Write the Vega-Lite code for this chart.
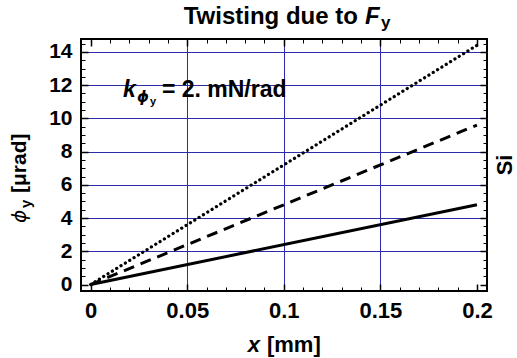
{
  "$schema": "https://vega.github.io/schema/vega-lite/v6.json",
  "width": 406,
  "height": 252,
  "autosize": "none",
  "padding": {"left": 81, "top": 39, "right": 30, "bottom": 67},
  "background": "white",
  "config": {
    "view": {"stroke": "black", "strokeWidth": 2},
    "axis": {"domain": false, "labelFont": "Liberation Sans", "labelFontWeight": "bold", "labelFontSize": 21, "labelColor": "black", "tickColor": "black", "grid": false},
    "text": {"font": "Liberation Sans", "color": "black", "fontWeight": "bold"}
  },
  "datasets": {
    "lines": [
      {"series": "solid", "x": 0, "y": 0},
      {"series": "solid", "x": 0.2, "y": 4.8},
      {"series": "dashed", "x": 0, "y": 0},
      {"series": "dashed", "x": 0.2, "y": 9.6},
      {"series": "dotted", "x": 0, "y": 0},
      {"series": "dotted", "x": 0.2, "y": 14.4}
    ]
  },
  "resolve": {"axis": {"x": "independent", "y": "independent"}},
  "layer": [
    {
      "data": {"name": "lines"},
      "mark": {"type": "point", "opacity": 0},
      "encoding": {
        "x": {"field": "x", "type": "quantitative", "scale": {"domain": [-0.005, 0.2052], "nice": false, "zero": false},
              "axis": {"title": null, "orient": "bottom", "values": [0.05, 0.1, 0.15], "grid": true, "gridColor": "#2c2ca8", "gridWidth": 1, "gridOpacity": 1, "labels": false, "ticks": false}},
        "y": {"field": "y", "type": "quantitative", "scale": {"domain": [-0.39, 14.78], "nice": false, "zero": false},
              "axis": {"title": null, "orient": "left", "values": [2, 4, 6, 8, 10, 12, 14], "grid": true, "gridColor": "#2c2ca8", "gridWidth": 1, "gridOpacity": 1, "labels": false, "ticks": false}}
      }
    },
    {
      "data": {"name": "lines"},
      "mark": {"type": "point", "opacity": 0},
      "encoding": {
        "x": {"field": "x", "type": "quantitative", "scale": {"domain": [-0.005, 0.2052], "nice": false, "zero": false},
              "axis": {"title": null, "orient": "bottom", "values": [0, 0.05, 0.1, 0.15, 0.2], "format": "~g", "ticks": false, "labelPadding": 9, "labelFontSize": 22}},
        "y": {"field": "y", "type": "quantitative", "scale": {"domain": [-0.39, 14.78], "nice": false, "zero": false},
              "axis": {"title": null, "orient": "left", "values": [0, 2, 4, 6, 8, 10, 12, 14], "format": "d", "ticks": false, "labelPadding": 9}}
      }
    },
    {
      "data": {"name": "lines"},
      "mark": {"type": "point", "opacity": 0},
      "encoding": {
        "x": {"field": "x", "type": "quantitative", "scale": {"domain": [-0.005, 0.2052], "nice": false, "zero": false},
              "axis": {"title": null, "orient": "bottom", "values": [0, 0.05, 0.1, 0.15, 0.2], "labels": false, "ticks": true, "tickSize": -7, "tickWidth": 1.5}},
        "y": {"field": "y", "type": "quantitative", "scale": {"domain": [-0.39, 14.78], "nice": false, "zero": false},
              "axis": {"title": null, "orient": "left", "values": [0, 2, 4, 6, 8, 10, 12, 14], "labels": false, "ticks": true, "tickSize": -7, "tickWidth": 1.5}}
      }
    },
    {
      "data": {"name": "lines"},
      "mark": {"type": "point", "opacity": 0},
      "encoding": {
        "x": {"field": "x", "type": "quantitative", "scale": {"domain": [-0.005, 0.2052], "nice": false, "zero": false},
              "axis": {"title": null, "orient": "bottom", "values": [0.01, 0.02, 0.03, 0.04, 0.06, 0.07, 0.08, 0.09, 0.11, 0.12, 0.13, 0.14, 0.16, 0.17, 0.18, 0.19], "labels": false, "ticks": true, "tickSize": -4, "tickWidth": 1}},
        "y": {"field": "y", "type": "quantitative", "scale": {"domain": [-0.39, 14.78], "nice": false, "zero": false},
              "axis": {"title": null, "orient": "left", "values": [0.5, 1, 1.5, 2.5, 3, 3.5, 4.5, 5, 5.5, 6.5, 7, 7.5, 8.5, 9, 9.5, 10.5, 11, 11.5, 12.5, 13, 13.5, 14.5], "labels": false, "ticks": true, "tickSize": -4, "tickWidth": 1}}
      }
    },
    {
      "data": {"name": "lines"},
      "mark": {"type": "point", "opacity": 0},
      "encoding": {
        "x": {"field": "x", "type": "quantitative", "scale": {"domain": [-0.005, 0.2052], "nice": false, "zero": false},
              "axis": {"title": null, "orient": "top", "values": [0, 0.05, 0.1, 0.15, 0.2], "labels": false, "ticks": true, "tickSize": -7, "tickWidth": 1.5}},
        "y": {"field": "y", "type": "quantitative", "scale": {"domain": [-0.39, 14.78], "nice": false, "zero": false},
              "axis": {"title": null, "orient": "right", "values": [0, 2, 4, 6, 8, 10, 12, 14], "labels": false, "ticks": true, "tickSize": -7, "tickWidth": 1.5}}
      }
    },
    {
      "data": {"name": "lines"},
      "mark": {"type": "point", "opacity": 0},
      "encoding": {
        "x": {"field": "x", "type": "quantitative", "scale": {"domain": [-0.005, 0.2052], "nice": false, "zero": false},
              "axis": {"title": null, "orient": "top", "values": [0.01, 0.02, 0.03, 0.04, 0.06, 0.07, 0.08, 0.09, 0.11, 0.12, 0.13, 0.14, 0.16, 0.17, 0.18, 0.19], "labels": false, "ticks": true, "tickSize": -4, "tickWidth": 1}},
        "y": {"field": "y", "type": "quantitative", "scale": {"domain": [-0.39, 14.78], "nice": false, "zero": false},
              "axis": {"title": null, "orient": "right", "values": [0.5, 1, 1.5, 2.5, 3, 3.5, 4.5, 5, 5.5, 6.5, 7, 7.5, 8.5, 9, 9.5, 10.5, 11, 11.5, 12.5, 13, 13.5, 14.5], "labels": false, "ticks": true, "tickSize": -4, "tickWidth": 1}}
      }
    },
    {
      "data": {"name": "lines"},
      "transform": [{"filter": "datum.series === 'solid'"}],
      "mark": {"type": "line", "color": "black", "strokeWidth": 3},
      "encoding": {
        "x": {"field": "x", "type": "quantitative", "scale": {"domain": [-0.005, 0.2052], "nice": false, "zero": false}, "axis": null},
        "y": {"field": "y", "type": "quantitative", "scale": {"domain": [-0.39, 14.78], "nice": false, "zero": false}, "axis": null}
      }
    },
    {
      "data": {"name": "lines"},
      "transform": [{"filter": "datum.series === 'dashed'"}],
      "mark": {"type": "line", "color": "black", "strokeWidth": 3, "strokeDash": [11, 7]},
      "encoding": {
        "x": {"field": "x", "type": "quantitative", "scale": {"domain": [-0.005, 0.2052], "nice": false, "zero": false}, "axis": null},
        "y": {"field": "y", "type": "quantitative", "scale": {"domain": [-0.39, 14.78], "nice": false, "zero": false}, "axis": null}
      }
    },
    {
      "data": {"name": "lines"},
      "transform": [{"filter": "datum.series === 'dotted'"}],
      "mark": {"type": "line", "color": "black", "strokeWidth": 3.2, "strokeDash": [0.1, 5], "strokeCap": "round"},
      "encoding": {
        "x": {"field": "x", "type": "quantitative", "scale": {"domain": [-0.005, 0.2052], "nice": false, "zero": false}, "axis": null},
        "y": {"field": "y", "type": "quantitative", "scale": {"domain": [-0.39, 14.78], "nice": false, "zero": false}, "axis": null}
      }
    },
    {
      "data": {"values": [{"label": "Twisting due to", "x": 0.142, "y": 15.686}]},
      "mark": {"type": "text", "align": "right", "baseline": "alphabetic", "fontSize": 24, "dx": -7, "clip": false},
      "encoding": {
        "text": {"field": "label"},
        "x": {"field": "x", "type": "quantitative", "scale": {"domain": [-0.005, 0.2052], "nice": false, "zero": false}, "axis": null},
        "y": {"field": "y", "type": "quantitative", "scale": {"domain": [-0.39, 14.78], "nice": false, "zero": false}, "axis": null}
      }
    },
    {
      "data": {"values": [{"label": "F", "x": 0.142, "y": 15.686}]},
      "mark": {"type": "text", "align": "left", "baseline": "alphabetic", "fontSize": 24, "fontStyle": "italic", "clip": false},
      "encoding": {
        "text": {"field": "label"},
        "x": {"field": "x", "type": "quantitative", "scale": {"domain": [-0.005, 0.2052], "nice": false, "zero": false}, "axis": null},
        "y": {"field": "y", "type": "quantitative", "scale": {"domain": [-0.39, 14.78], "nice": false, "zero": false}, "axis": null}
      }
    },
    {
      "data": {"values": [{"label": "y", "x": 0.142, "y": 15.686}]},
      "mark": {"type": "text", "align": "left", "baseline": "alphabetic", "fontSize": 17, "dx": 16, "dy": 4, "clip": false},
      "encoding": {
        "text": {"field": "label"},
        "x": {"field": "x", "type": "quantitative", "scale": {"domain": [-0.005, 0.2052], "nice": false, "zero": false}, "axis": null},
        "y": {"field": "y", "type": "quantitative", "scale": {"domain": [-0.39, 14.78], "nice": false, "zero": false}, "axis": null}
      }
    },
    {
      "data": {"values": [{"label": "x", "x": 0.0887, "y": -4.06}]},
      "mark": {"type": "text", "align": "right", "baseline": "alphabetic", "fontSize": 22, "fontStyle": "italic", "dx": -2, "clip": false},
      "encoding": {
        "text": {"field": "label"},
        "x": {"field": "x", "type": "quantitative", "scale": {"domain": [-0.005, 0.2052], "nice": false, "zero": false}, "axis": null},
        "y": {"field": "y", "type": "quantitative", "scale": {"domain": [-0.39, 14.78], "nice": false, "zero": false}, "axis": null}
      }
    },
    {
      "data": {"values": [{"label": "[mm]", "x": 0.0887, "y": -4.06}]},
      "mark": {"type": "text", "align": "left", "baseline": "alphabetic", "fontSize": 22, "dx": 5, "clip": false},
      "encoding": {
        "text": {"field": "label"},
        "x": {"field": "x", "type": "quantitative", "scale": {"domain": [-0.005, 0.2052], "nice": false, "zero": false}, "axis": null},
        "y": {"field": "y", "type": "quantitative", "scale": {"domain": [-0.39, 14.78], "nice": false, "zero": false}, "axis": null}
      }
    },
    {
      "data": {"values": [{"label": "ϕ", "x": -0.0335, "y": 3.705}]},
      "mark": {"type": "text", "align": "left", "baseline": "alphabetic", "fontSize": 20, "fontStyle": "italic", "fontWeight": "normal", "angle": 270, "font": "DejaVu Sans", "clip": false},
      "encoding": {
        "text": {"field": "label"},
        "x": {"field": "x", "type": "quantitative", "scale": {"domain": [-0.005, 0.2052], "nice": false, "zero": false}, "axis": null},
        "y": {"field": "y", "type": "quantitative", "scale": {"domain": [-0.39, 14.78], "nice": false, "zero": false}, "axis": null}
      }
    },
    {
      "data": {"values": [{"label": "y", "x": -0.0335, "y": 3.705}]},
      "mark": {"type": "text", "align": "left", "baseline": "alphabetic", "fontSize": 15, "angle": 270, "dx": 15, "dy": 5, "clip": false},
      "encoding": {
        "text": {"field": "label"},
        "x": {"field": "x", "type": "quantitative", "scale": {"domain": [-0.005, 0.2052], "nice": false, "zero": false}, "axis": null},
        "y": {"field": "y", "type": "quantitative", "scale": {"domain": [-0.39, 14.78], "nice": false, "zero": false}, "axis": null}
      }
    },
    {
      "data": {"values": [{"label": "[μrad]", "x": -0.0335, "y": 3.705}]},
      "mark": {"type": "text", "align": "left", "baseline": "alphabetic", "fontSize": 21, "angle": 270, "dx": 30, "clip": false},
      "encoding": {
        "text": {"field": "label"},
        "x": {"field": "x", "type": "quantitative", "scale": {"domain": [-0.005, 0.2052], "nice": false, "zero": false}, "axis": null},
        "y": {"field": "y", "type": "quantitative", "scale": {"domain": [-0.39, 14.78], "nice": false, "zero": false}, "axis": null}
      }
    },
    {
      "data": {"values": [{"label": "Si", "x": 0.2181, "y": 7.197}]},
      "mark": {"type": "text", "align": "center", "baseline": "alphabetic", "fontSize": 22, "angle": 270, "clip": false},
      "encoding": {
        "text": {"field": "label"},
        "x": {"field": "x", "type": "quantitative", "scale": {"domain": [-0.005, 0.2052], "nice": false, "zero": false}, "axis": null},
        "y": {"field": "y", "type": "quantitative", "scale": {"domain": [-0.39, 14.78], "nice": false, "zero": false}, "axis": null}
      }
    },
    {
      "data": {"values": [{"label": "k", "x": 0.0167, "y": 11.29}]},
      "mark": {"type": "text", "align": "left", "baseline": "alphabetic", "fontSize": 23, "fontStyle": "italic", "clip": false},
      "encoding": {
        "text": {"field": "label"},
        "x": {"field": "x", "type": "quantitative", "scale": {"domain": [-0.005, 0.2052], "nice": false, "zero": false}, "axis": null},
        "y": {"field": "y", "type": "quantitative", "scale": {"domain": [-0.39, 14.78], "nice": false, "zero": false}, "axis": null}
      }
    },
    {
      "data": {"values": [{"label": "ϕ", "x": 0.0167, "y": 11.29}]},
      "mark": {"type": "text", "align": "left", "baseline": "alphabetic", "fontSize": 15, "fontStyle": "italic", "font": "DejaVu Sans", "dx": 14, "dy": 5, "clip": false},
      "encoding": {
        "text": {"field": "label"},
        "x": {"field": "x", "type": "quantitative", "scale": {"domain": [-0.005, 0.2052], "nice": false, "zero": false}, "axis": null},
        "y": {"field": "y", "type": "quantitative", "scale": {"domain": [-0.39, 14.78], "nice": false, "zero": false}, "axis": null}
      }
    },
    {
      "data": {"values": [{"label": "y", "x": 0.0167, "y": 11.29}]},
      "mark": {"type": "text", "align": "left", "baseline": "alphabetic", "fontSize": 11, "dx": 27, "dy": 8, "clip": false},
      "encoding": {
        "text": {"field": "label"},
        "x": {"field": "x", "type": "quantitative", "scale": {"domain": [-0.005, 0.2052], "nice": false, "zero": false}, "axis": null},
        "y": {"field": "y", "type": "quantitative", "scale": {"domain": [-0.39, 14.78], "nice": false, "zero": false}, "axis": null}
      }
    },
    {
      "data": {"values": [{"label": "= 2. mN/rad", "x": 0.0167, "y": 11.29}]},
      "mark": {"type": "text", "align": "left", "baseline": "alphabetic", "fontSize": 23, "dx": 39, "clip": false},
      "encoding": {
        "text": {"field": "label"},
        "x": {"field": "x", "type": "quantitative", "scale": {"domain": [-0.005, 0.2052], "nice": false, "zero": false}, "axis": null},
        "y": {"field": "y", "type": "quantitative", "scale": {"domain": [-0.39, 14.78], "nice": false, "zero": false}, "axis": null}
      }
    }
  ]
}
